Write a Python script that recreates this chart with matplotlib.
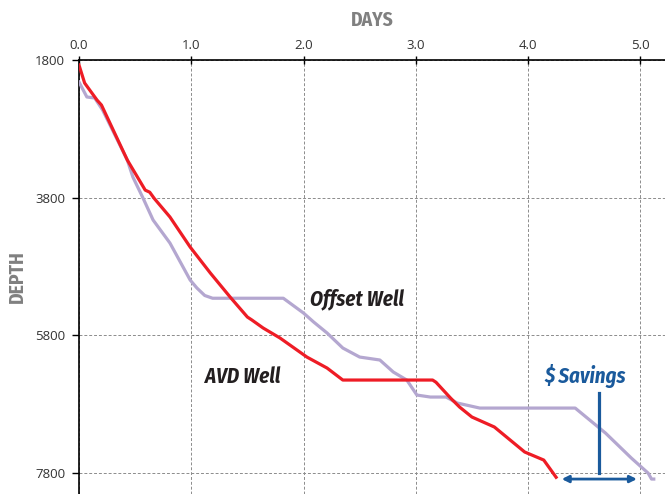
import matplotlib
matplotlib.use('Agg')
import matplotlib.pyplot as plt

# AVD well (red)
avd_days = [0.0, 0.05, 0.16, 0.20, 0.43, 0.59, 0.63, 0.67, 0.81, 0.99, 1.08, 1.17, 1.35,
            1.50, 1.54, 1.64, 1.79, 2.03, 2.21, 2.35, 3.15, 3.18, 3.31, 3.39, 3.50,
            3.62, 3.70, 3.97, 4.14, 4.25]
avd_depth = [1873, 2134, 2381, 2454, 3252, 3690, 3720, 3810, 4080, 4516, 4705, 4894, 5250,
             5533, 5576, 5692, 5837, 6114, 6274, 6448, 6448, 6480, 6710, 6840, 6985,
             7072, 7130, 7493, 7610, 7860]

# offset well (lavender)
off_days = [0.0, 0.07, 0.14, 0.21, 0.43, 0.48, 0.57, 0.66, 0.81, 0.99, 1.05, 1.12, 1.19,
            1.82, 2.00, 2.09, 2.21, 2.35, 2.50, 2.68, 2.80, 2.92, 3.01, 3.13, 3.27,
            3.37, 3.57, 4.42, 4.69, 4.92, 5.07, 5.10, 5.12]
off_depth = [2120, 2337, 2352, 2526, 3252, 3500, 3804, 4124, 4458, 4995, 5111, 5220, 5260,
             5260, 5475, 5605, 5765, 5983, 6114, 6157, 6332, 6448, 6666, 6695, 6695,
             6782, 6855, 6855, 7218, 7581, 7800, 7886, 7886]

day_ticks = [0.0, 1.0, 2.0, 3.0, 4.0, 5.0]
depth_ticks = [1800, 3800, 5800, 7800]

# savings marker
sav_x = 4.63
sav_top = 6637
arrow_from = 4.30
arrow_to = 4.97
arrow_depth = 7886

narrow = ['Fira Sans Condensed', 'DejaVu Sans']
blue = '#1a5a9c'

fig = plt.figure(figsize=(6.65, 4.94), dpi=100)
ax = fig.add_axes([79 / 665, 0.0, 586 / 665, 1 - 60 / 494])

ax.plot(off_days, off_depth, color='#b4a7d0', lw=2.3, solid_joinstyle='round', zorder=3)
ax.plot(avd_days, avd_depth, color='#ee1c25', lw=2.3, solid_joinstyle='round', zorder=4)

ax.set_xlim(0, 5.22)
ax.set_ylim(8103, 1800)
ax.xaxis.tick_top()
ax.xaxis.set_label_position('top')
ax.set_xticks(day_ticks)
ax.set_xticklabels(['%.1f' % d for d in day_ticks], family='Open Sans')
ax.set_yticks(depth_ticks)
ax.set_yticklabels([str(d) for d in depth_ticks], family='Open Sans')
ax.tick_params(axis='x', direction='inout', length=6, width=1, labelsize=9.5,
               labelcolor='#333333', pad=3)
ax.tick_params(axis='y', direction='out', length=5, width=1, labelsize=9.5,
               labelcolor='#333333', pad=5)

for s in ['right', 'bottom']:
    ax.spines[s].set_visible(False)
ax.spines['top'].set_linewidth(1.2)
ax.spines['left'].set_linewidth(1.2)

ax.grid(True, color='#8c8c8c', linestyle=(0, (3, 2)), linewidth=0.7)
ax.set_axisbelow(True)

ax.set_xlabel('DAYS', fontsize=14, fontweight='bold', color='#808080',
              family=narrow, labelpad=9)
ax.set_ylabel('DEPTH', fontsize=14, fontweight='bold', color='#808080',
              family=narrow, labelpad=6)

ax.text(2.48, 5275, 'Offset Well', fontsize=15, fontweight='bold', style='italic',
        color='#231f20', family=narrow, ha='center', va='center')
ax.text(1.46, 6395, 'AVD Well', fontsize=15, fontweight='bold', style='italic',
        color='#231f20', family=narrow, ha='center', va='center')
ax.text(4.51, 6395, '$ Savings', fontsize=15, fontweight='bold', style='italic',
        color=blue, family=narrow, ha='center', va='center')

ax.plot([sav_x, sav_x], [sav_top, 7800], color=blue, lw=2.3, zorder=5)
ax.annotate('', xy=(arrow_from, arrow_depth), xytext=(arrow_to, arrow_depth),
            arrowprops=dict(arrowstyle='<|-|>', color=blue, lw=2,
                            mutation_scale=10, shrinkA=0, shrinkB=0))

fig.savefig('out.png', dpi=100)
